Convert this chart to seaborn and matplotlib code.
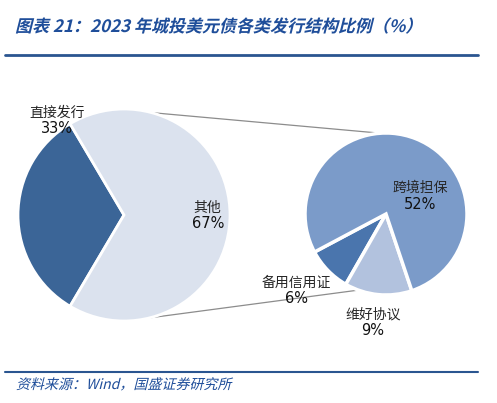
import numpy as np
import matplotlib.pyplot as plt
import seaborn as sns
from matplotlib.textpath import TextPath
from matplotlib.patches import PathPatch
from matplotlib.font_manager import FontProperties
from matplotlib.transforms import Affine2D

# data
main_labels = ["直接发行", "其他"]
main_values = [33, 67]
sub_labels = ["备用信用证", "维好协议", "跨境担保"]
sub_values = [6, 9, 52]

main_colors = ["#3b6597", "#dbe2ee"]
sub_colors = ["#4a75ad", "#b2c2de", "#7b9bc9"]

sns.set_theme(style="white")
plt.rcParams['font.family'] = ['Noto Sans CJK SC', 'DejaVu Sans']

W, H = 497, 403
fig = plt.figure(figsize=(W / 100, H / 100), dpi=100)
ax = fig.add_axes([0, 0, 1, 1])

# pie positions (pixels, y measured from bottom)
c1, r1 = (124, 188), 106
c2, r2 = (386, 189), 81

start1 = 180 - main_values[0] / sum(main_values) * 180
w1, _ = ax.pie(main_values, colors=main_colors, startangle=start1, center=c1, radius=r1,
               wedgeprops=dict(edgecolor="white", linewidth=2))
w2, _ = ax.pie(sub_values, colors=sub_colors, startangle=208, center=c2, radius=r2,
               wedgeprops=dict(edgecolor="white", linewidth=2.5))
ax.set_xlim(0, W)
ax.set_ylim(0, H)
ax.set_aspect("equal")
ax.axis("off")

# connecting lines between the two pies
def on_circle(c, r, ang):
    a = np.deg2rad(ang)
    return c[0] + r * np.cos(a), c[1] + r * np.sin(a)

for a1, a2 in [(75, 94), (-76, -110)]:
    p1 = on_circle(c1, r1, a1)
    p2 = on_circle(c2, r2, a2)
    ax.plot([p1[0], p2[0]], [p1[1], p2[1]], color="#8c8c8c", lw=0.9, zorder=0)

# labels
def put_label(c, r, ang, dist, name, val):
    x, y = on_circle(c, r * dist, ang)
    ax.text(x, y + 7, name, ha="center", va="center", fontsize=10, color="#262626")
    ax.text(x, y - 9, f"{val}%", ha="center", va="center", fontsize=10.5, color="#111111",
            family=["DejaVu Sans"])

put_label(c1, r1, 125, 1.10, main_labels[0], main_values[0])
put_label(c1, r1, 0, 0.79, main_labels[1], main_values[1])
put_label(c2, r2, 220, 1.45, sub_labels[0], sub_values[0])
put_label(c2, r2, 263, 1.34, sub_labels[1], sub_values[1])
put_label(c2, r2, 29, 0.48, sub_labels[2], sub_values[2])

# slanted text (the CJK font has no italic face)
def slanted(x, y, s, size, color, weight="normal"):
    fp = FontProperties(family="Noto Sans CJK SC", weight=weight)
    tp = TextPath((0, 0), s, size=size, prop=fp)
    tr = Affine2D().skew_deg(14, 0).translate(x, y)
    ax.add_patch(PathPatch(tr.transform_path(tp), facecolor=color, edgecolor="none", lw=0))

blue = "#1f4e9a"
slanted(15, H - 32, "图表 21：2023 年城投美元债各类发行结构比例（%）", 17, blue, "bold")
ax.plot([5, 478], [H - 55, H - 55], color="#2a5590", lw=2)
ax.plot([5, 478], [H - 372, H - 372], color="#2a5590", lw=1.5)
slanted(16, H - 389, "资料来源：Wind，国盛证券研究所", 14, blue)

fig.savefig("out.png", dpi=100)
